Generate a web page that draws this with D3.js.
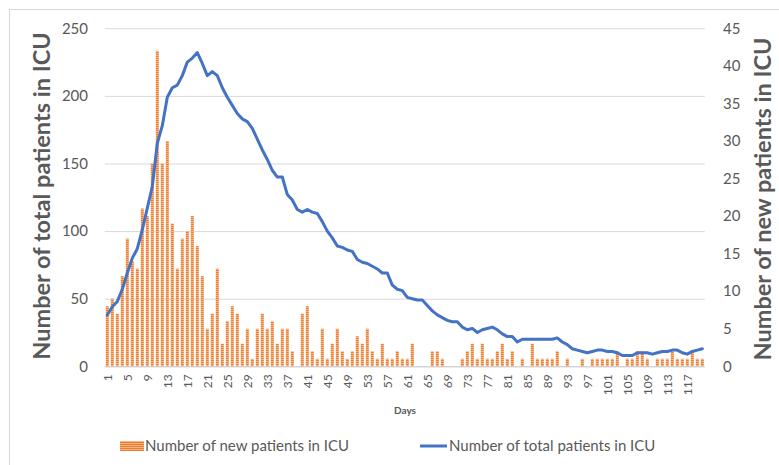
<!DOCTYPE html>
<meta charset="utf-8">
<style>
body { margin: 0; background: #fff; }
text { font-family: Lato, "Noto Sans", sans-serif; fill: #595959; }
</style>
<body>
<script src="https://cdn.jsdelivr.net/npm/d3@7/dist/d3.min.js"></script>
<script>
// days 1..120
var days = d3.range(1, 121);

// new ICU patients per day (right axis)
var newPatients = [
  8, 9, 7, 12, 17, 14, 13, 21, 20, 27, 42, 27, 30, 19, 13, 17, 18, 20, 16, 12,
  5, 7, 13, 3, 6, 8, 7, 3, 5, 1, 5, 7, 5, 6, 3, 5, 5, 2, 0, 7,
  8, 2, 1, 5, 1, 3, 5, 2, 1, 2, 4, 3, 5, 2, 1, 3, 1, 1, 2, 1,
  1, 3, 0, 0, 0, 2, 2, 1, 0, 0, 0, 1, 2, 3, 1, 3, 1, 1, 2, 3,
  1, 2, 0, 1, 0, 3, 1, 1, 1, 1, 2, 0, 1, 0, 0, 1, 0, 1, 1, 1,
  1, 1, 2, 0, 1, 1, 2, 2, 1, 0, 1, 1, 1, 2, 1, 1, 1, 2, 1, 1
];

// total ICU patients (left axis)
var totalPatients = [
  38, 44, 48, 57, 69, 80, 87, 101, 117, 133, 165, 178, 199, 206, 208, 215, 225, 228, 232, 224,
  215, 218, 215, 206, 199, 193, 187, 183, 181, 176, 168, 160, 153, 145, 140, 140, 127, 123, 116, 114,
  116, 114, 113, 107, 100, 95, 89, 88, 86, 85, 79, 77, 76, 74, 72, 69, 69, 60, 57, 56,
  51, 50, 49, 49, 45, 41, 38, 36, 34, 33, 33, 29, 27, 28, 25, 27, 28, 29, 27, 24,
  22, 22, 18, 20, 20, 20, 20, 20, 20, 20, 21, 18, 16, 13, 12, 11, 10, 11, 12, 12,
  11, 11, 10, 8, 8, 8, 10, 10, 10, 9, 10, 11, 11, 12, 12, 10, 9, 11, 12, 13
];

var leftTicks = [0, 50, 100, 150, 200, 250];
var rightTicks = [0, 5, 10, 15, 20, 25, 30, 35, 40, 45];

var width = 779, height = 465;
var plotL = 104.8, plotR = 704.8, plotT = 28.3, plotB = 366.3;

var svg = d3.select("body").append("svg")
    .attr("width", width)
    .attr("height", height);

// chart border
svg.append("rect")
    .attr("x", 9.5).attr("y", 9.5)
    .attr("width", 900).attr("height", 600)
    .attr("fill", "none").attr("stroke", "#d9d9d9");

var defs = svg.append("defs");
var pat = defs.append("pattern")
    .attr("id", "stripes")
    .attr("patternUnits", "userSpaceOnUse")
    .attr("width", 4).attr("height", 2);
pat.append("rect").attr("width", 4).attr("height", 2).attr("fill", "#f6b283");
pat.append("rect").attr("width", 4).attr("height", 1).attr("fill", "#ed7d31");

var x = d3.scaleBand()
    .domain(days)
    .range([plotL, plotR])
    .paddingInner(0.4)
    .paddingOuter(0.2);

var yL = d3.scaleLinear().domain([0, 250]).range([plotB, plotT]);
var yR = d3.scaleLinear().domain([0, 45]).range([plotB, plotT]);

// gridlines
svg.append("g")
  .selectAll("line")
  .data(leftTicks.slice(1))
  .enter().append("line")
    .attr("x1", plotL).attr("x2", plotR)
    .attr("y1", function(d) { return yL(d) + 0.5; })
    .attr("y2", function(d) { return yL(d) + 0.5; })
    .attr("stroke", "#d9d9d9");

// left axis labels
svg.append("g")
  .selectAll("text")
  .data(leftTicks)
  .enter().append("text")
    .attr("x", 88)
    .attr("y", function(d) { return yL(d); })
    .attr("dy", "0.35em")
    .attr("text-anchor", "end")
    .style("font-size", "15px")
    .text(function(d) { return d; });

// right axis labels
svg.append("g")
  .selectAll("text")
  .data(rightTicks)
  .enter().append("text")
    .attr("x", 723)
    .attr("y", function(d) { return yR(d); })
    .attr("dy", "0.35em")
    .style("font-size", "15px")
    .text(function(d) { return d; });

// bars
svg.append("g")
  .selectAll("rect")
  .data(days)
  .enter().append("rect")
    .attr("x", function(d) { return x(d); })
    .attr("y", function(d, i) { return yR(newPatients[i]); })
    .attr("width", x.bandwidth())
    .attr("height", function(d, i) { return plotB - yR(newPatients[i]); })
    .attr("fill", "url(#stripes)");

// x axis line
svg.append("line")
    .attr("x1", plotL).attr("x2", plotR)
    .attr("y1", plotB + 0.5).attr("y2", plotB + 0.5)
    .attr("stroke", "#bfbfbf");

// line
var line = d3.line()
    .x(function(d) { return x(d) + x.bandwidth() / 2; })
    .y(function(d, i) { return yL(totalPatients[i]); });

svg.append("path")
    .datum(days)
    .attr("d", line)
    .attr("fill", "none")
    .attr("stroke", "#4472c4")
    .attr("stroke-width", 3)
    .attr("stroke-linejoin", "round")
    .attr("stroke-linecap", "round");

// x tick labels
svg.append("g")
  .selectAll("text")
  .data(days.filter(function(d) { return (d - 1) % 4 === 0; }))
  .enter().append("text")
    .attr("transform", function(d) {
      return "translate(" + (x(d) + x.bandwidth() / 2) + "," + (plotB + 8) + ") rotate(-90)";
    })
    .attr("dy", "0.35em")
    .attr("text-anchor", "end")
    .style("font-size", "12px")
    .text(function(d) { return d; });

svg.append("text")
    .attr("x", 405).attr("y", 414)
    .attr("text-anchor", "middle")
    .style("font-size", "10px")
    .style("font-weight", "bold")
    .text("Days");

// axis titles
svg.append("text")
    .attr("transform", "translate(50,196) rotate(-90)")
    .attr("text-anchor", "middle")
    .style("font-size", "23.5px")
    .style("font-weight", "bold")
    .text("Number of total patients in ICU");

svg.append("text")
    .attr("transform", "translate(771,199) rotate(-90)")
    .attr("text-anchor", "middle")
    .style("font-size", "23.5px")
    .style("font-weight", "bold")
    .text("Number of new patients in ICU");

// legend
var lg = svg.append("g");
lg.append("rect")
    .attr("x", 120).attr("y", 441)
    .attr("width", 24).attr("height", 10)
    .attr("fill", "url(#stripes)");
lg.append("text")
    .attr("x", 145).attr("y", 446)
    .attr("dy", "0.35em")
    .style("font-size", "15px")
    .text("Number of new patients in ICU");
lg.append("line")
    .attr("x1", 420).attr("x2", 447)
    .attr("y1", 446).attr("y2", 446)
    .attr("stroke", "#4472c4")
    .attr("stroke-width", 3);
lg.append("text")
    .attr("x", 449).attr("y", 446)
    .attr("dy", "0.35em")
    .style("font-size", "15px")
    .text("Number of total patients in ICU");
</script>
</body>
